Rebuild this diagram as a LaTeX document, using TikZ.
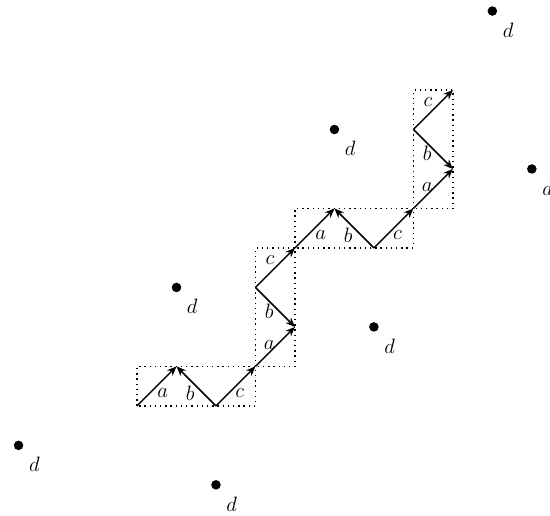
\documentclass[tikz,border=0pt]{standalone}
\usepackage{amsmath,amssymb}
\usepackage{tikz}
\usetikzlibrary{positioning,arrows.meta,calc}

\begin{document}
\begin{tikzpicture}[
    x=0.8cm,y=0.8cm,
    move/.style={-{Stealth[length=5.5pt,width=4.5pt]},line width=0.9pt},
    segbox/.style={draw,line width=0.8pt,dash pattern=on 0.8pt off 2.2pt},
    site/.style={circle,fill,inner sep=0pt,minimum size=5.5pt},
    lbl/.style={inner sep=0pt,font=\large}
]
\useasboundingbox (-3.47,-2.78) rectangle (10.46,10.28);

% Grid points of the staircase
\foreach \x/\y in {0/0,1/1,2/0,3/1,4/2,3/3,4/4,5/5,6/4,7/5,8/6,7/7,8/8}
    \coordinate (p\x\y) at (\x,\y);

% Dotted segment boxes
\draw[segbox] (p00) rectangle (p31);
\draw[segbox] (p31) rectangle (p44);
\draw[segbox] (p44) rectangle (p75);
\draw[segbox] (p75) rectangle (p88);

% Steps, first row
\draw[move] (p00) -- (p11);
\draw[move] (p20) -- (p11);
\draw[move] (p20) -- (p31);
\node[lbl] (ha1) at (0.65,0.33) {$a$};
\node[lbl] (hb1) at (1.35,0.33) {$b$};
\node[lbl] (hc1) at (2.6,0.33) {$c$};

% Steps, first column
\draw[move] (p31) -- (p42);
\draw[move] (p33) -- (p42);
\draw[move] (p33) -- (p44);
\node[lbl] (va1) at (3.35,1.55) {$a$};
\node[lbl] (vb1) at (3.35,2.4) {$b$};
\node[lbl] (vc1) at (3.37,3.7) {$c$};

% Steps, second row
\draw[move] (p44) -- (p55);
\draw[move] (p64) -- (p55);
\draw[move] (p64) -- (p75);
\node[lbl] (ha2) at (4.65,4.33) {$a$};
\node[lbl] (hb2) at (5.35,4.33) {$b$};
\node[lbl] (hc2) at (6.6,4.33) {$c$};

% Steps, second column
\draw[move] (p75) -- (p86);
\draw[move] (p77) -- (p86);
\draw[move] (p77) -- (p88);
\node[lbl] (va2) at (7.35,5.55) {$a$};
\node[lbl] (vb2) at (7.35,6.4) {$b$};
\node[lbl] (vc2) at (7.37,7.7) {$c$};

% Isolated sites
\foreach \x/\y [count=\i] in {9/10,5/7,10/6,1/3,6/2,-3/-1,2/-2}{
    \node[site] (d\i) at (\x,\y) {};
    \node[lbl] (dl\i) at ($(d\i)+(0.4,-0.48)$) {$d$};
}
\end{tikzpicture}
\end{document}
